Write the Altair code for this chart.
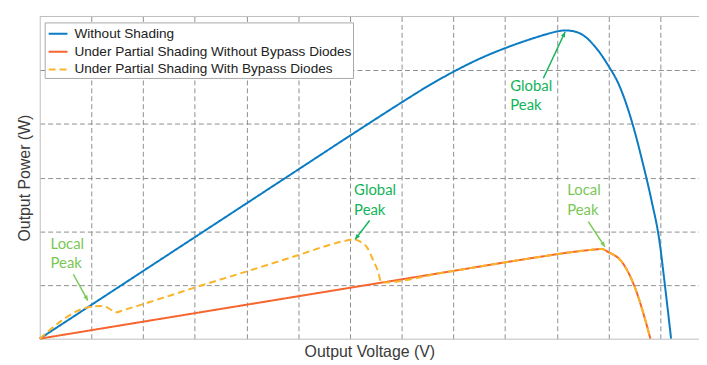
import math
import altair as alt
import pandas as pd

# ---------------- data (grid units) ----------------
names = ["Without Shading",
         "Under Partial Shading Without Bypass Diodes",
         "Under Partial Shading With Bypass Diodes"]

blue_x = [0, 1.0, 2.0, 3.0, 4.0, 5.0, 6.0, 7.0, 7.5, 8.0, 8.5, 9.0, 9.5, 9.8,
          10.0, 10.15, 10.3, 10.54, 10.73, 10.98, 11.21, 11.50, 11.65, 11.83, 11.98, 12.10, 12.21]
blue_y = [0, 0.63, 1.26, 1.89, 2.52, 3.15, 3.78, 4.40, 4.70, 4.97, 5.21, 5.41, 5.58, 5.67,
          5.72, 5.74, 5.73, 5.63, 5.45, 5.11, 4.71, 3.88, 3.32, 2.58, 1.85, 0.92, 0]

orange_x = [0, 4.98, 7.86, 9.58, 10.35, 10.73, 10.87, 11.0, 11.25, 11.5, 11.69, 11.81]
orange_y = [0, 0.787, 1.24, 1.51, 1.62, 1.66, 1.67, 1.61, 1.44, 0.98, 0.42, 0]

yellow_x = [0, 0.92, 1.05, 1.18, 1.31, 1.41, 1.48, 1.60, 1.92, 2.43, 2.99, 4.03, 4.98,
            5.62, 5.94, 6.08, 6.19, 6.33, 6.44, 6.54, 6.61,
            7.86, 9.58, 10.35, 10.73, 10.87, 11.0, 11.25, 11.5, 11.69, 11.81]
yellow_y = [0, 0.58, 0.60, 0.61, 0.58, 0.52, 0.49, 0.525, 0.62, 0.775, 0.95, 1.26, 1.55,
            1.75, 1.83, 1.85, 1.81, 1.70, 1.48, 1.26, 1.045,
            1.24, 1.51, 1.62, 1.66, 1.67, 1.61, 1.44, 0.98, 0.42, 0]

local_text = ["Local", "Peak", "Local", "Peak"]
local_tx = [0.21, 0.21, 10.20, 10.20]
local_ty = [1.77, 1.40, 2.77, 2.40]
global_text = ["Global", "Peak", "Global", "Peak"]
global_tx = [6.08, 6.08, 9.10, 9.10]
global_ty = [2.77, 2.40, 4.71, 4.36]

local_ax1 = [0.65, 10.61]
local_ay1 = [1.20, 2.18]
local_ax2 = [0.93, 10.93]
local_ay2 = [0.71, 1.71]
global_ax1 = [6.38, 9.74]
global_ay1 = [2.20, 4.85]
global_ax2 = [6.10, 10.16]
global_ay2 = [1.85, 5.71]

x_grid = list(range(1, 13))
y_grid = list(range(1, 6))

# ---------------- layout / style ----------------
W, H = 665, 325
XMAX, YMAX = 12.75, 6
BLUE, ORANGE, YELLOW = "#0B7CC3", "#F7652F", "#F9B42A"
LIGHT_GREEN, DARK_GREEN = "#79C856", "#12B35A"

rows = []
for nm, xs, ys in [(names[0], blue_x, blue_y), (names[1], orange_x, orange_y),
                   (names[2], yellow_x, yellow_y)]:
    for i, (a, b) in enumerate(zip(xs, ys)):
        rows.append({"series": nm, "x": a, "y": b, "i": i})
df = pd.DataFrame(rows)

xscale = alt.Scale(domain=[0, XMAX], nice=False, zero=False)
yscale = alt.Scale(domain=[0, YMAX], nice=False, zero=False)
xaxis = alt.Axis(values=x_grid, grid=True, labels=False, ticks=False, domain=True,
                 domainColor="#bdbdbd", gridColor="#8f8f8f", gridDash=[5, 3],
                 gridWidth=1, title="Output Voltage (V)", titleFont="Liberation Sans",
                 titleFontSize=16, titleFontWeight="normal", titleColor="#3a3a3a",
                 titlePadding=5)
yaxis = alt.Axis(values=y_grid, grid=True, labels=False, ticks=False, domain=True,
                 domainColor="#bdbdbd", gridColor="#8f8f8f", gridDash=[5, 3],
                 gridWidth=1, title="Output Power (W)", titleFont="Liberation Sans",
                 titleFontSize=16, titleFontWeight="normal", titleColor="#3a3a3a",
                 titlePadding=7)

cscale = alt.Scale(domain=names, range=[BLUE, ORANGE, YELLOW])
dscale = alt.Scale(domain=names, range=[[1, 0], [1, 0], [7, 4]])


def line_layer(nm):
    return alt.Chart(df[df.series == nm]).mark_line(
        strokeWidth=2, interpolate="monotone").encode(
        x=alt.X("x:Q", scale=xscale, axis=xaxis),
        y=alt.Y("y:Q", scale=yscale, axis=yaxis),
        color=alt.Color("series:N", scale=cscale, title=None),
        strokeDash=alt.StrokeDash("series:N", scale=dscale, title=None),
        order="i:Q",
    )


top_border = alt.Chart(pd.DataFrame({"y": [YMAX]})).mark_rule(
    color="#bdbdbd", strokeWidth=1).encode(y=alt.Y("y:Q", scale=yscale))

px_x, px_y = W / XMAX, H / YMAX
HEAD = "M0,0L-0.75,1.7L0.75,1.7Z"


def arrows(x1, y1, x2, y2, color):
    ang = []
    for a, b, c, d in zip(x1, y1, x2, y2):
        dx = (c - a) * px_x
        dy = -(d - b) * px_y
        ang.append(math.degrees(math.atan2(dx, -dy)) % 360)
    adf = pd.DataFrame({"x1": x1, "y1": y1, "x2": x2, "y2": y2, "ang": ang})
    shaft = alt.Chart(adf).mark_rule(color=color, strokeWidth=1.5).encode(
        x=alt.X("x1:Q", scale=xscale), y=alt.Y("y1:Q", scale=yscale),
        x2="x2:Q", y2="y2:Q")
    head = alt.Chart(adf).mark_point(shape=HEAD, filled=True, color=color,
                                     opacity=1, size=36).encode(
        x=alt.X("x2:Q", scale=xscale), y=alt.Y("y2:Q", scale=yscale),
        angle=alt.Angle("ang:Q", scale=None))
    return shaft + head


def texts(t, x, y, color):
    tdf = pd.DataFrame({"t": t, "x": x, "y": y})
    return alt.Chart(tdf).mark_text(align="left", baseline="middle", font="Lato",
                                    fontSize=15, color=color).encode(
        x=alt.X("x:Q", scale=xscale), y=alt.Y("y:Q", scale=yscale), text="t:N")


chart = alt.layer(
    line_layer(names[0]),
    line_layer(names[1]),
    line_layer(names[2]),
    top_border,
    arrows(local_ax1, local_ay1, local_ax2, local_ay2, LIGHT_GREEN),
    arrows(global_ax1, global_ay1, global_ax2, global_ay2, DARK_GREEN),
    texts(local_text, local_tx, local_ty, LIGHT_GREEN),
    texts(global_text, global_tx, global_ty, DARK_GREEN),
).properties(
    width=W, height=H,
    autosize=alt.AutoSizeParams(type="none"),
    padding={"left": 32, "top": 7, "right": 0, "bottom": 25},
).configure_view(stroke=None).configure_legend(
    orient="none", legendX=5, legendY=6, fillColor="white", strokeColor="#a8a8a8",
    padding=1, symbolType="stroke", symbolSize=361, symbolStrokeWidth=2,
    symbolOffset=2, labelFont="Liberation Sans", labelFontSize=13.7,
    labelColor="#222222", rowPadding=-1, labelOffset=6, labelLimit=400,
)

chart.save("out.html", embed_options={"renderer": "svg", "actions": False})
